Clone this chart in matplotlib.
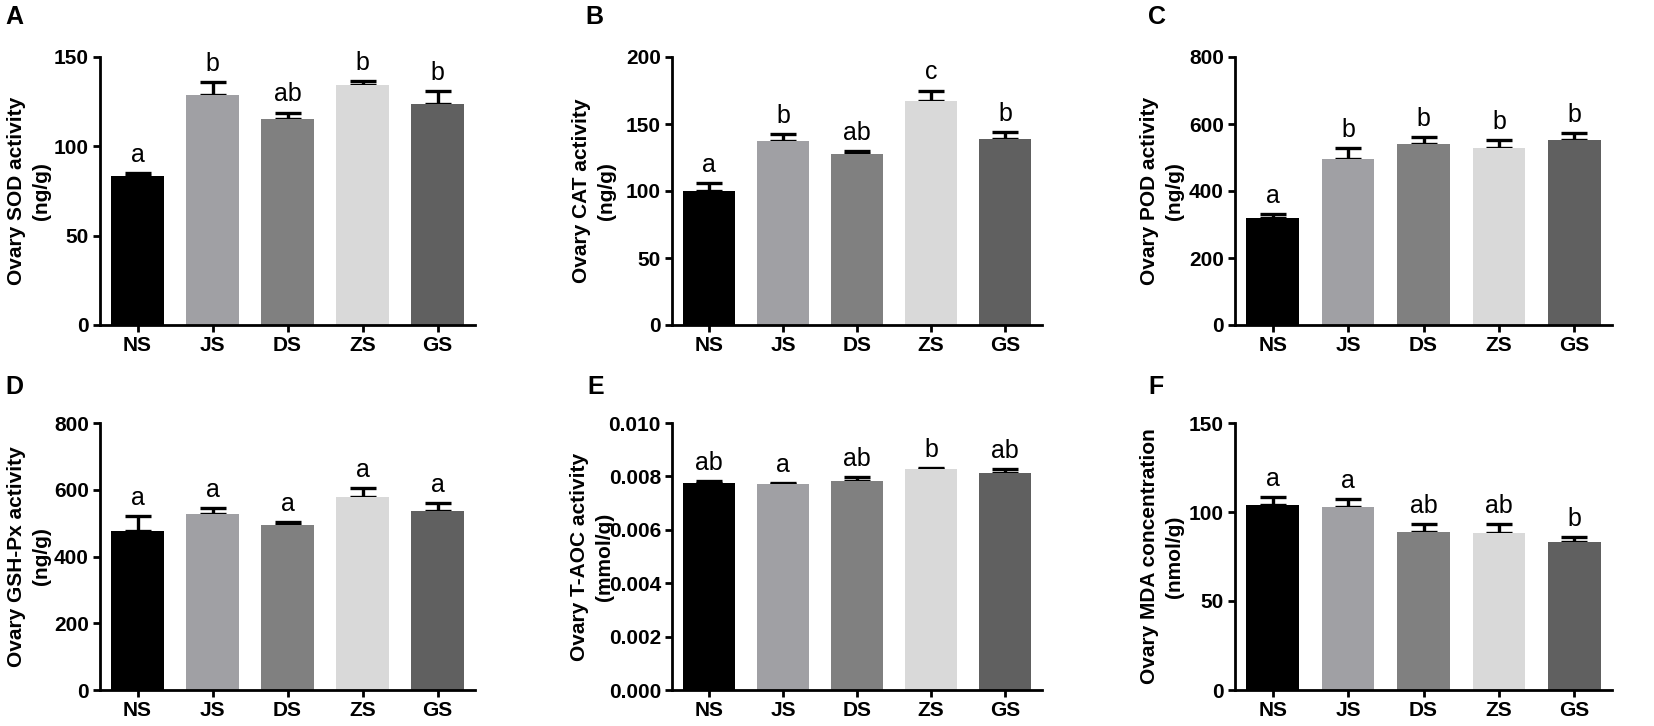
import numpy as np
import matplotlib
matplotlib.use('Agg')
import matplotlib.pyplot as plt

plt.rcParams['font.family'] = ['Liberation Sans', 'DejaVu Sans']

groups = ['NS', 'JS', 'DS', 'ZS', 'GS']
bar_colors = ['#000000', '#a0a0a4', '#808080', '#d9d9d9', '#606060']

# means, errors (SEM, drawn upward only) and significance letters per panel
sod_mean = [83.4, 129.0, 115.3, 134.1, 123.9]
sod_err = [1.5, 7.0, 3.6, 2.5, 7.1]
sod_sig = ['a', 'b', 'ab', 'b', 'b']

cat_mean = [100.0, 137.0, 127.5, 167.5, 138.7]
cat_err = [6.0, 5.7, 2.5, 7.5, 5.3]
cat_sig = ['a', 'b', 'ab', 'c', 'b']

pod_mean = [318, 495, 540, 527, 552]
pod_err = [12, 34, 22, 25, 22]
pod_sig = ['a', 'b', 'b', 'b', 'b']

gsh_mean = [477, 527, 493, 579, 537]
gsh_err = [45, 19, 11, 26, 22]
gsh_sig = ['a', 'a', 'a', 'a', 'a']

taoc_mean = [0.00776, 0.00770, 0.00783, 0.00826, 0.00811]
taoc_err = [0.00008, 0.00006, 0.00014, 0.00004, 0.00015]
taoc_sig = ['ab', 'a', 'ab', 'b', 'ab']

mda_mean = [103.8, 102.7, 88.5, 88.1, 83.0]
mda_err = [4.5, 4.7, 4.8, 4.9, 2.8]
mda_sig = ['a', 'a', 'ab', 'ab', 'b']

W, H = 1654, 726
fig = plt.figure(figsize=(W / 100, H / 100), dpi=100)

# panel layout in pixels: (letter, x0, x1, ytop, ybottom, ylabel x, ylabel)
panels = [
    ('A', 100, 475, 57, 325, 29, 'Ovary SOD activity\n(ng/g)',
     sod_mean, sod_err, sod_sig, 150, 50, '{:.0f}'),
    ('B', 672, 1042, 57, 325, 594, 'Ovary CAT activity\n(ng/g)',
     cat_mean, cat_err, cat_sig, 200, 50, '{:.0f}'),
    ('C', 1235, 1612, 57, 325, 1162, 'Ovary POD activity\n(ng/g)',
     pod_mean, pod_err, pod_sig, 800, 200, '{:.0f}'),
    ('D', 100, 475, 423, 690, 29, 'Ovary GSH-Px activity\n(ng/g)',
     gsh_mean, gsh_err, gsh_sig, 800, 200, '{:.0f}'),
    ('E', 672, 1042, 423, 690, 592, 'Ovary T-AOC activity\n(mmol/g)',
     taoc_mean, taoc_err, taoc_sig, 0.010, 0.002, '{:.3f}'),
    ('F', 1235, 1612, 423, 690, 1162, 'Ovary MDA concentration\n(nmol/g)',
     mda_mean, mda_err, mda_sig, 150, 50, '{:.0f}'),
]

letter_pos = {'A': (5, 17), 'B': (585, 17), 'C': (1148, 17),
              'D': (5, 387), 'E': (587, 387), 'F': (1148, 387)}

for (name, x0, x1, yt, yb, lx, ylab, mean, err, sig, ymax, ystep, fmt) in panels:
    ax = fig.add_axes([x0 / W, 1 - yb / H, (x1 - x0) / W, (yb - yt) / H])
    x = np.arange(len(groups))
    ax.bar(x, mean, width=0.7, color=bar_colors, zorder=2)
    ax.errorbar(x, mean, yerr=[np.zeros(len(mean)), err], fmt='none',
                ecolor='black', elinewidth=2.4, capsize=9.5, capthick=2.4, zorder=1)
    for xi, m, e, s in zip(x, mean, err, sig):
        ax.annotate(s, (xi, m + e), xytext=(0, 8), textcoords='offset points',
                    ha='center', va='baseline', fontsize=18)
    ax.set_xlim(-0.5, 4.5)
    ax.set_ylim(0, ymax)
    ticks = np.arange(0, ymax + ystep / 2, ystep)
    ax.set_yticks(ticks)
    ax.set_yticklabels([fmt.format(t) for t in ticks])
    ax.set_xticks(x)
    ax.set_xticklabels(groups)
    for sp in ['top', 'right']:
        ax.spines[sp].set_visible(False)
    for sp in ['left', 'bottom']:
        ax.spines[sp].set_linewidth(2)
    ax.tick_params(width=2, length=5, labelsize=15, pad=3)
    for lab in ax.get_xticklabels() + ax.get_yticklabels():
        lab.set_fontweight('bold')
    fig.text(lx / W, 1 - (yt + yb) / 2 / H, ylab, rotation=90, ha='center', va='center',
             fontsize=15, fontweight='bold', linespacing=1.35, multialignment='center')
    lpx, lpy = letter_pos[name]
    fig.text(lpx / W, 1 - lpy / H, name, fontsize=18, fontweight='bold',
             ha='left', va='center')

plt.savefig('out.png', dpi=100)
